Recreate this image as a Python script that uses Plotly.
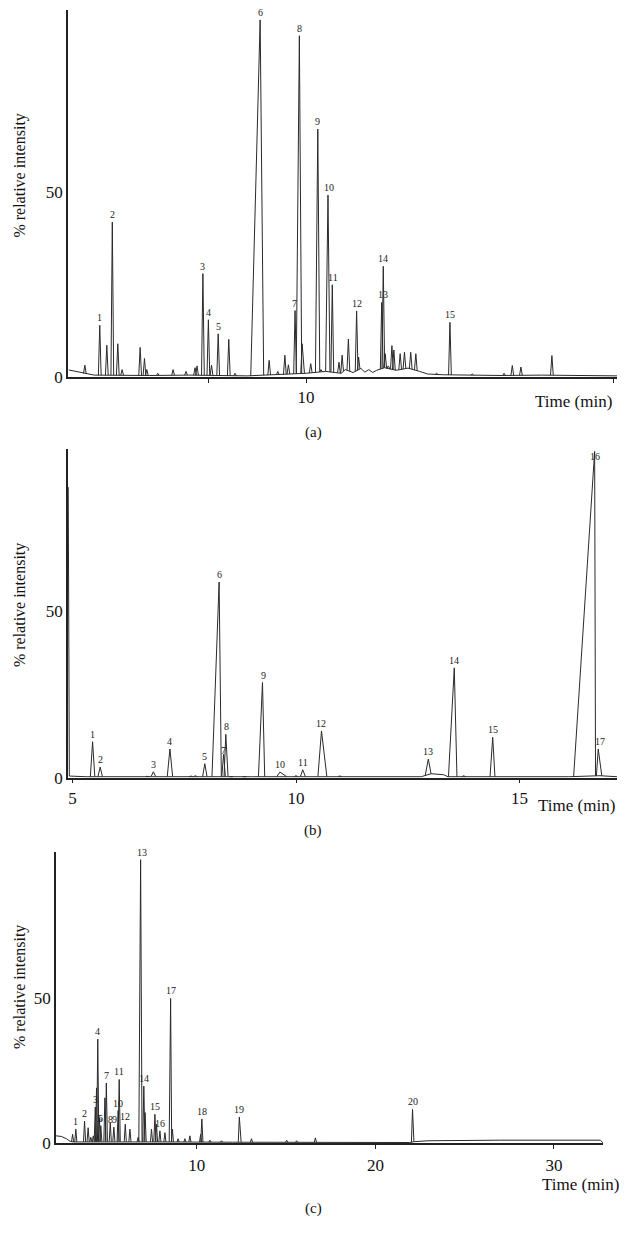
import numpy as np
import plotly.graph_objects as go

# ---------------- Panel (a) ----------------
a_peak_t = [4.36, 4.74, 4.92, 5.06, 5.20, 5.31, 5.77, 5.88, 5.94, 6.22, 6.61, 6.94, 7.17, 7.22,
            7.37, 7.51, 7.59, 7.76, 8.03, 8.19, 8.83, 9.06, 9.28, 9.46, 9.55, 9.72, 9.83, 9.90,
            10.12, 10.30, 10.38, 10.56, 10.67, 10.84, 10.92, 11.08, 11.29, 11.34, 11.93, 11.97,
            12.02, 12.10, 12.19, 12.24, 12.40, 12.51, 12.67, 12.80, 13.33, 13.67, 14.24, 15.05,
            15.26, 15.48, 16.27]
a_peak_h = [3.2, 14.0, 8.6, 42.0, 9.0, 2.0, 8.0, 5.0, 2.0, 1.0, 2.0, 1.5, 2.5, 3.0,
            28.0, 15.5, 3.2, 11.7, 10.2, 1.0, 96.8, 4.5, 1.5, 5.9, 3.3, 18.0, 92.5, 9.0,
            3.6, 67.2, 2.0, 49.3, 25.0, 4.0, 5.9, 10.3, 17.9, 5.4, 20.2, 30.0,
            6.3, 3.0, 8.5, 7.3, 6.3, 6.7, 6.7, 6.3, 1.0, 14.8, 0.8, 1.0,
            3.1, 2.7, 5.8]
a_rise = [0.035] * 20 + [0.24] + [0.035] * 5 + [0.08, 0.035, 0.035, 0.06, 0.035, 0.06] + [0.035] * 23
a_fall = [0.035] * 20 + [0.09] + [0.035] * 5 + [0.06, 0.06, 0.035, 0.05, 0.035, 0.05] + [0.035] * 23
a_base_t = [3.95, 4.1, 4.3, 4.6, 6.0, 7.0, 8.5, 9.3, 10.0, 10.5, 10.9, 11.0, 11.2, 11.4, 11.5,
            11.6, 11.7, 11.8, 12.0, 12.3, 12.6, 12.9, 13.1, 13.5, 14.0, 15.0, 16.0, 17.0, 17.93]
a_base_v = [1.9, 1.6, 1.0, 0.5, 0.4, 0.5, 0.3, 0.6, 1.0, 1.5, 1.0, 2.0, 1.2, 2.3, 1.3,
            2.0, 1.2, 1.8, 2.5, 1.8, 2.4, 1.5, 0.8, 0.6, 0.5, 0.4, 0.5, 0.4, 0.3]
a_lab_text = ["1", "2", "3", "4", "5", "6", "7", "8", "9", "10", "11", "12", "13", "14", "15"]
a_lab_t = [4.74, 5.06, 7.37, 7.51, 7.76, 8.83, 9.70, 9.83, 10.30, 10.59, 10.70, 11.29, 11.95, 11.97, 13.67]
a_lab_v = [14.0, 42.0, 28.0, 15.5, 11.7, 96.8, 18.0, 92.5, 67.2, 49.3, 25.0, 17.9, 20.2, 30.0, 14.8]

# ---------------- Panel (b) ----------------
b_peak_t = [5.45, 5.62, 6.68, 6.81, 7.18, 7.65, 7.75, 7.96, 8.28, 8.38, 8.43, 8.55, 8.85,
            9.25, 9.64, 10.00, 10.15, 10.57, 10.98, 12.96, 13.54, 13.75, 14.40, 16.68, 16.76]
b_peak_h = [10.8, 3.2, 0.5, 1.8, 8.6, 0.5, 0.6, 4.2, 58.6, 7.0, 13.0, 0.4, 0.3,
            28.5, 1.7, 0.6, 2.4, 14.0, 0.5, 5.6, 32.9, 0.6, 12.1, 97.7, 8.6]
b_rise = [0.05, 0.05, 0.04, 0.05, 0.06, 0.04, 0.04, 0.05, 0.16, 0.04, 0.04, 0.04, 0.04,
          0.09, 0.07, 0.04, 0.05, 0.08, 0.04, 0.07, 0.13, 0.04, 0.06, 0.47, 0.04]
b_fall = [0.05, 0.05, 0.04, 0.05, 0.06, 0.04, 0.04, 0.05, 0.05, 0.04, 0.05, 0.04, 0.04,
          0.05, 0.15, 0.04, 0.06, 0.12, 0.04, 0.06, 0.06, 0.04, 0.05, 0.02, 0.08]
b_base_t = [4.905, 4.93, 5.3, 6.5, 8.0, 9.0, 11.5, 12.8, 13.02, 13.3, 13.4, 16.1, 16.8, 17.18]
b_base_v = [87.0, 0.5, 0.3, 0.4, 0.3, 0.3, 0.4, 0.3, 1.2, 0.9, 0.3, 0.3, 0.6, 0.3]
b_lab_text = ["1", "2", "3", "4", "5", "6", "7", "8", "9", "10", "11", "12", "13", "14", "15", "16", "17"]
b_lab_t = [5.45, 5.62, 6.81, 7.18, 7.96, 8.28, 8.37, 8.44, 9.28, 9.64, 10.15, 10.57, 12.96, 13.54, 14.40, 16.68, 16.80]
b_lab_v = [10.8, 3.2, 1.8, 8.6, 4.2, 58.6, 6.0, 13.0, 28.5, 1.7, 2.4, 14.0, 5.6, 32.9, 12.1, 94.0, 8.6]

# ---------------- Panel (c) ----------------
c_peak_t = [3.04, 3.22, 3.71, 3.91, 4.06, 4.20, 4.31, 4.38, 4.45, 4.54, 4.62, 4.85, 4.93,
            5.15, 5.35, 5.59, 5.65, 5.99, 6.25, 6.71, 6.85, 7.03, 7.10, 7.46, 7.65, 7.74,
            7.93, 8.21, 8.53, 8.63, 8.95, 9.33, 9.61, 10.21, 10.28, 10.73, 11.38, 12.38,
            13.06, 15.03, 15.59, 16.64, 22.08]
c_peak_h = [3.0, 4.8, 7.6, 5.3, 2.0, 2.5, 12.4, 19.0, 35.8, 8.5, 6.0, 15.6, 20.7,
            7.0, 5.5, 11.2, 21.9, 6.5, 4.8, 2.0, 97.6, 19.6, 10.5, 4.8, 9.9, 6.5,
            4.2, 3.6, 49.8, 4.8, 1.5, 1.5, 2.5, 3.0, 8.3, 1.0, 0.8, 9.0,
            1.5, 1.0, 0.8, 1.8, 11.6]
c_rise = [0.06] * 20 + [0.10] + [0.06] * 7 + [0.08] + [0.06] * 8 + [0.06] + [0.06] * 4 + [0.06]
c_fall = [0.06] * 20 + [0.08] + [0.06] * 7 + [0.06] + [0.06] * 8 + [0.10] + [0.06] * 4 + [0.08]
c_base_t = [2.11, 2.4, 2.7, 2.9, 3.1, 5.0, 8.0, 12.0, 16.0, 20.0, 21.9, 22.2, 23.0, 27.0, 32.6, 32.75]
c_base_v = [2.5, 2.3, 1.5, 0.6, 0.4, 0.5, 0.4, 0.3, 0.3, 0.2, 0.2, 0.5, 0.8, 1.0, 1.0, 0.1]
c_lab_text = ["1", "2", "3", "4", "5", "6", "7", "8", "9", "10", "11", "12", "13", "14",
              "15", "16", "17", "18", "19", "20"]
c_lab_t = [3.22, 3.71, 4.31, 4.45, 4.54, 4.62, 4.93, 5.15, 5.37, 5.59, 5.65, 5.99, 6.93, 7.03,
           7.65, 7.93, 8.53, 10.28, 12.38, 22.08]
c_lab_v = [4.8, 7.6, 12.4, 35.8, 6.0, 6.0, 20.7, 5.5, 5.5, 11.2, 21.9, 6.5, 97.6, 19.6,
           9.9, 4.2, 49.8, 8.3, 9.0, 11.6]

# ---------------- layout geometry ----------------
W, H = 630, 1251
FONT = "Liberation Serif"
LINE = "#2a2a2a"


def px_x(p):
    return p / W


def px_y(p):
    return 1 - p / H


panels = [
    dict(name="a", pt=a_peak_t, ph=a_peak_h, pr=a_rise, pf=a_fall, bt=a_base_t, bv=a_base_v,
         lt=a_lab_text, lx=a_lab_t, lv=a_lab_v,
         xdom=[px_x(68), px_x(617)], ydom=[px_y(380), px_y(10)],
         xr=[3.93, 17.93], yr=[0, 99.5],
         tv=[7.5, 10, 17.83], tt=["", "10", ""], standoff=0,
         title_y=177, time_xy=(614, 405), lab_xy=(313, 436)),
    dict(name="b", pt=b_peak_t, ph=b_peak_h, pr=b_rise, pf=b_fall, bt=b_base_t, bv=b_base_v,
         lt=b_lab_text, lx=b_lab_t, lv=b_lab_v,
         xdom=[px_x(68), px_x(617)], ydom=[px_y(784), px_y(453)],
         xr=[4.90, 17.18], yr=[0, 98.3],
         tv=[5, 10, 15], tt=["5", "10", "15"], standoff=0,
         title_y=610, time_xy=(617, 812), lab_xy=(313, 837)),
    dict(name="c", pt=c_peak_t, ph=c_peak_h, pr=c_rise, pf=c_fall, bt=c_base_t, bv=c_base_v,
         lt=c_lab_text, lx=c_lab_t, lv=c_lab_v,
         xdom=[px_x(56), px_x(603)], ydom=[px_y(1152.3), px_y(859)],
         xr=[2.11, 32.75], yr=[0, 100.2],
         tv=[10, 20, 30], tt=["10", "20", "30"], standoff=2,
         title_y=995, time_xy=(621, 1194), lab_xy=(313, 1218)),
]

fig = go.Figure()
annotations = []
layout_axes = {}

for i, p in enumerate(panels, start=1):
    xa = "x" if i == 1 else f"x{i}"
    ya = "y" if i == 1 else f"y{i}"
    # baseline trace
    fig.add_trace(go.Scatter(x=p["bt"], y=p["bv"], mode="lines", xaxis=xa, yaxis=ya,
                             line=dict(color=LINE, width=1), hoverinfo="skip", showlegend=False))
    # peaks
    xs, ys = [], []
    for t, h, r, f in zip(p["pt"], p["ph"], p["pr"], p["pf"]):
        bl = float(np.interp(t - r, p["bt"], p["bv"]))
        br = float(np.interp(t + f, p["bt"], p["bv"]))
        xs += [t - r, t, t + f, None]
        ys += [bl, h, br, None]
    fig.add_trace(go.Scatter(x=xs, y=ys, mode="lines", xaxis=xa, yaxis=ya,
                             line=dict(color=LINE, width=1), hoverinfo="skip", showlegend=False))
    # peak labels
    for txt, t, v in zip(p["lt"], p["lx"], p["lv"]):
        annotations.append(dict(x=t, y=v, xref=xa, yref=ya, text=txt, showarrow=False,
                                yanchor="bottom", yshift=0,
                                font=dict(family=FONT, size=10, color="#222")))
    # axes
    xkey = "xaxis" if i == 1 else f"xaxis{i}"
    ykey = "yaxis" if i == 1 else f"yaxis{i}"
    layout_axes[xkey] = dict(domain=p["xdom"], range=p["xr"], anchor=ya, showline=True,
                             linecolor="#222", linewidth=1.5, ticks="outside", ticklen=4,
                             tickcolor="#222", tickvals=p["tv"], ticktext=p["tt"],
                             ticklabelstandoff=p["standoff"],
                             tickfont=dict(family=FONT, size=17, color="#111"),
                             showgrid=False, zeroline=False, fixedrange=True)
    layout_axes[ykey] = dict(domain=p["ydom"], range=p["yr"], anchor=xa, showline=True,
                             linecolor="#222", linewidth=1.5, ticks="", tickvals=[0, 50],
                             ticktext=["0", "50"],
                             tickfont=dict(family=FONT, size=17, color="#111"),
                             showgrid=False, zeroline=False, fixedrange=True)
    # y title
    annotations.append(dict(x=20 / W, y=px_y(p["title_y"]), xref="paper", yref="paper",
                            text="% relative intensity", textangle=-90, showarrow=False,
                            xanchor="center", yanchor="middle",
                            font=dict(family=FONT, size=16, color="#111")))
    annotations.append(dict(x=px_x(p["time_xy"][0]), y=px_y(p["time_xy"][1]), xref="paper",
                            yref="paper", text="Time (min)", showarrow=False,
                            xanchor="right", yanchor="middle",
                            font=dict(family=FONT, size=17, color="#111")))
    annotations.append(dict(x=px_x(p["lab_xy"][0]), y=px_y(p["lab_xy"][1]), xref="paper",
                            yref="paper", text=f"({p['name']})", showarrow=False,
                            xanchor="center", yanchor="middle",
                            font=dict(family=FONT, size=15, color="#111")))

fig.update_layout(width=W, height=H, margin=dict(l=0, r=0, t=0, b=0),
                  paper_bgcolor="white", plot_bgcolor="white",
                  annotations=annotations, showlegend=False, **layout_axes)

fig.write_html("out.html", config={"displayModeBar": False},
               post_script="document.body.style.margin='0px';")
